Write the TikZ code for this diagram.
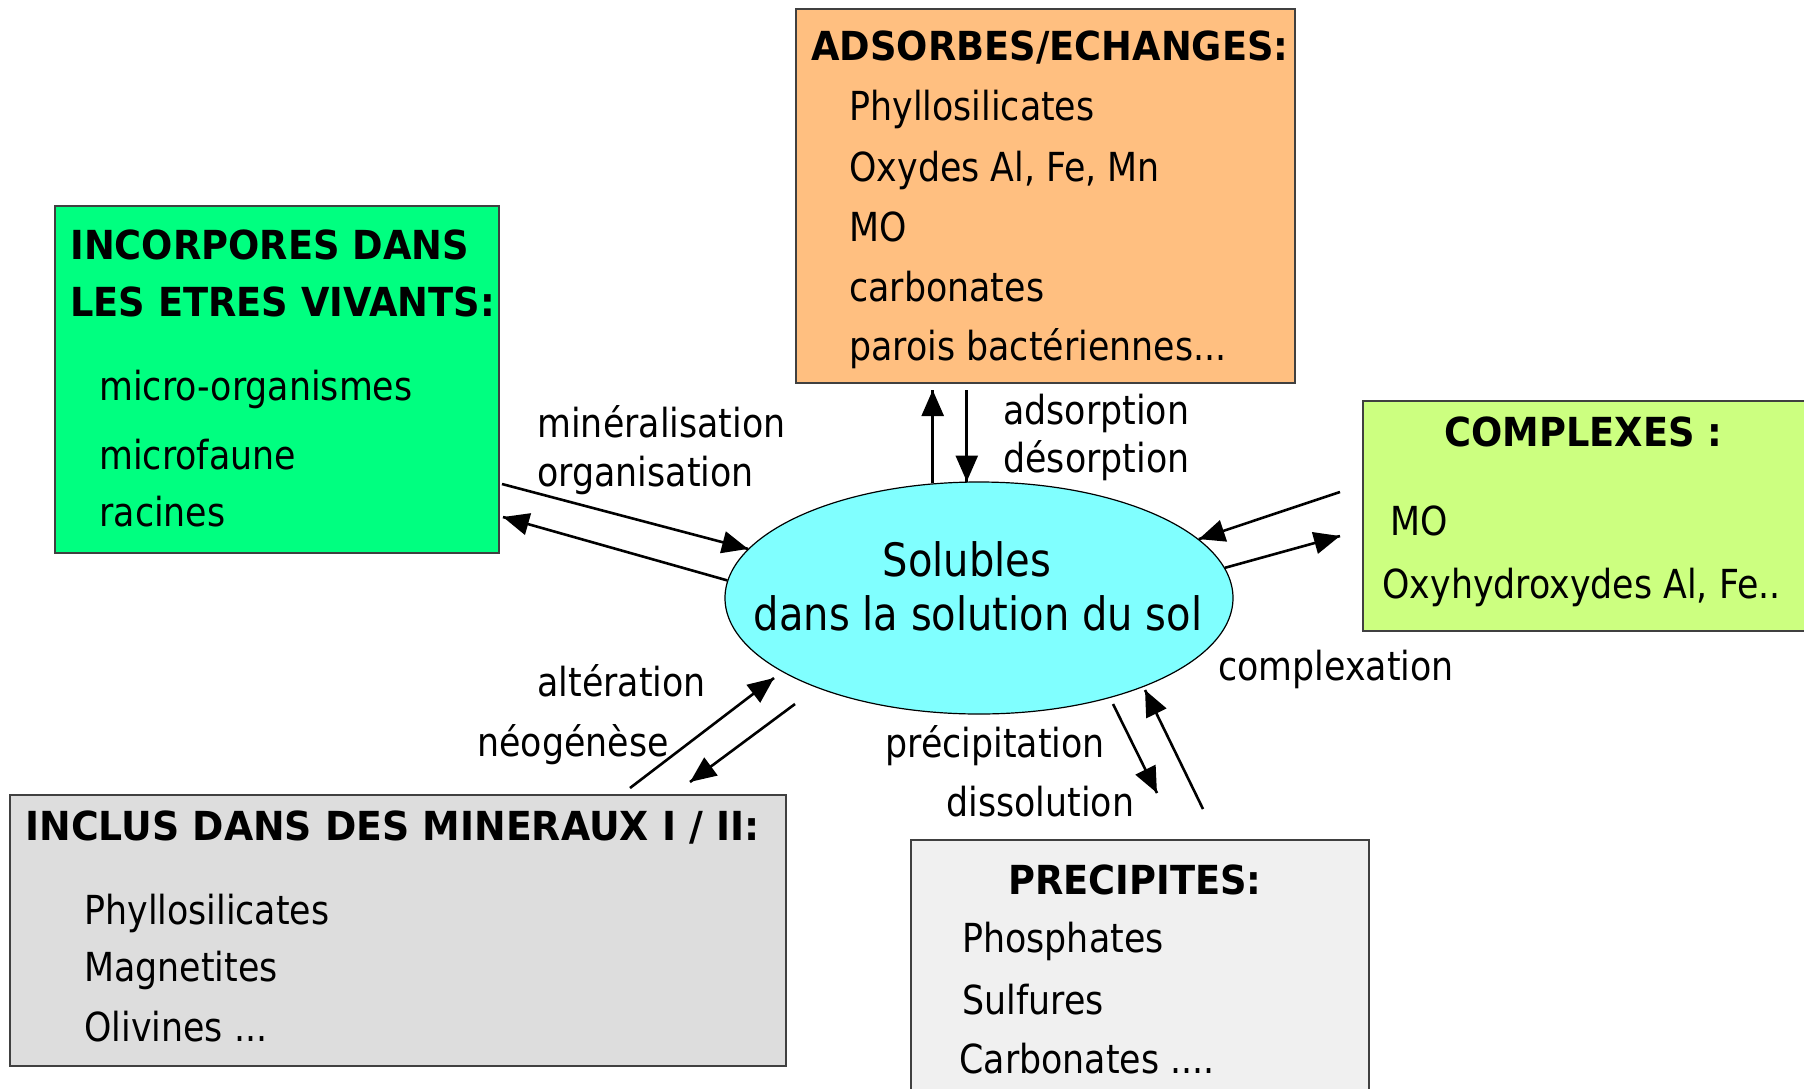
\documentclass[tikz,border=0pt]{standalone}
\usepackage{fontspec}
\setmainfont{DejaVu Sans}[FakeStretch=0.87]
\newfontfamily\headfont{DejaVu Sans}[FakeStretch=0.92]
\newfontfamily\wideheadfont{DejaVu Sans}[FakeStretch=0.945]
\usetikzlibrary{arrows.meta}
\usetikzlibrary{decorations.markings}
\usetikzlibrary{shapes.geometric}
\tikzset{flow/.style = {line width=1.3pt,
                        decoration={markings,
                                    mark=at position 1 with {\arrow{Triangle[length=13pt, width=11pt]}}},
                        postaction={decorate}}}
\tikzset{box/.style = {draw=boxline, line width=1pt, anchor=north west, inner sep=0}}
\tikzset{head/.style = {anchor=base west, inner sep=0, font=\headfont\bfseries\fontsize{20}{24}\selectfont}}
\tikzset{item/.style = {anchor=base west, inner sep=0}}
\tikzset{soltext/.style = {anchor=base, inner sep=0, font=\fontsize{23}{27}\selectfont}}
\definecolor{adsorange}{HTML}{FFBF80}
\definecolor{vivgreen}{HTML}{00FF80}
\definecolor{cpxgreen}{HTML}{CCFF80}
\definecolor{minegray}{HTML}{DDDDDD}
\definecolor{precgray}{HTML}{F0F0F0}
\definecolor{solcyan}{HTML}{80FFFF}
\definecolor{boxline}{HTML}{404040}

\begin{document}
\begin{tikzpicture}[x=0.5pt, y=-0.5pt, font=\fontsize{20}{24}\selectfont]
    \useasboundingbox (0,0) rectangle (1804,1088);

    % adsorbes / echanges
    \node [box, fill=adsorange, minimum width=249.5pt, minimum height=187pt] (ads) at (795,8) {};
    \node [head] (adst) at (811,60) {ADSORBES/ECHANGES:};
    \node [item] (ads1) at (849,120) {Phyllosilicates};
    \node [item] (ads2) at (849,181) {Oxydes Al, Fe, Mn};
    \node [item] (ads3) at (849,241) {MO};
    \node [item] (ads4) at (849,301) {carbonates};
    \node [item] (ads5) at (849,360) {parois bactériennes...};

    % incorpores dans les etres vivants
    \node [box, fill=vivgreen, minimum width=222pt, minimum height=173.5pt] (viv) at (54,205) {};
    \node [head] (vivt1) at (70,259) {INCORPORES DANS};
    \node [head] (vivt2) at (70,316) {LES ETRES VIVANTS:};
    \node [item] (viv1) at (99,400) {micro-organismes};
    \node [item] (viv2) at (99,469) {microfaune};
    \node [item] (viv3) at (99,526) {racines};

    % complexes
    \node [box, fill=cpxgreen, minimum width=235pt, minimum height=115pt] (cpx) at (1362,400) {};
    \node [head] (cpxt) at (1444,446) {COMPLEXES :};
    \node [item] (cpx1) at (1390,535) {MO};
    \node [item] (cpx2) at (1382,598) {Oxyhydroxydes Al, Fe..};

    % inclus dans des mineraux
    \node [box, fill=minegray, minimum width=388pt, minimum height=135.5pt] (min) at (9,794) {};
    \node [head, font=\wideheadfont\bfseries\fontsize{20}{24}\selectfont] (mint) at (25,840)
      {INCLUS DANS DES MINERAUX I / II:};
    \node [item] (min1) at (84,924) {Phyllosilicates};
    \node [item] (min2) at (84,981) {Magnetites};
    \node [item] (min3) at (84,1041) {Olivines ...};

    % precipites
    \node [box, fill=precgray, minimum width=229pt, minimum height=140pt] (pre) at (910,839) {};
    \node [head] (pret) at (1008,894) {PRECIPITES:};
    \node [item] (pre1) at (962,952) {Phosphates};
    \node [item] (pre2) at (962,1014) {Sulfures};
    \node [item] (pre3) at (959,1073) {Carbonates ....};

    % solution du sol
    \node [ellipse, draw, fill=solcyan, line width=0.6pt, inner sep=0,
           minimum width=254pt, minimum height=116pt] (sol) at (979,598) {};
    \node [soltext] (solt1) at (967,576) {Solubles};
    \node [soltext] (solt2) at (978,630) {dans la solution du sol};

    % processes
    \node [item] (lmin) at (537,437) {minéralisation};
    \node [item] (lorg) at (537,486) {organisation};
    \node [item] (lads) at (1003,424) {adsorption};
    \node [item] (ldes) at (1003,472) {désorption};
    \node [item] (lcpx) at (1218,680) {complexation};
    \node [item] (lalt) at (537,696) {altération};
    \node [item] (lneo) at (477,756) {néogénèse};
    \node [item] (lpre) at (885,757) {précipitation};
    \node [item] (ldis) at (946,816) {dissolution};

    \coordinate (minA) at (502,484);
    \coordinate (orgB) at (503,517);
    \coordinate (cpxA) at (1340,492);
    \coordinate (cpxB) at (1340,536);
    \coordinate (altA) at (630,788);
    \coordinate (altB) at (774,678);
    \coordinate (neoA) at (795,704);
    \coordinate (neoB) at (690,782);
    \coordinate (preA) at (1113,704);
    \coordinate (preB) at (1157,793);
    \coordinate (disA) at (1203,809);
    \coordinate (disB) at (1145,690);

    \draw [flow] (minA) -- (sol.168);
    \draw [flow] (sol.176) -- (orgB);
    \draw [flow] (sol.112) -- ([yshift=-3pt]ads.south -| sol.112);
    \draw [flow] ([yshift=-3pt]ads.south -| sol.96) -- (sol.96);
    \draw [flow] (cpxA) -- (sol.15);
    \draw [flow] (sol.7) -- (cpxB);
    \draw [flow] (altA) -- (altB);
    \draw [flow] (neoA) -- (neoB);
    \draw [flow] (preA) -- (preB);
    \draw [flow] (disA) -- (disB);
\end{tikzpicture}
\end{document}
